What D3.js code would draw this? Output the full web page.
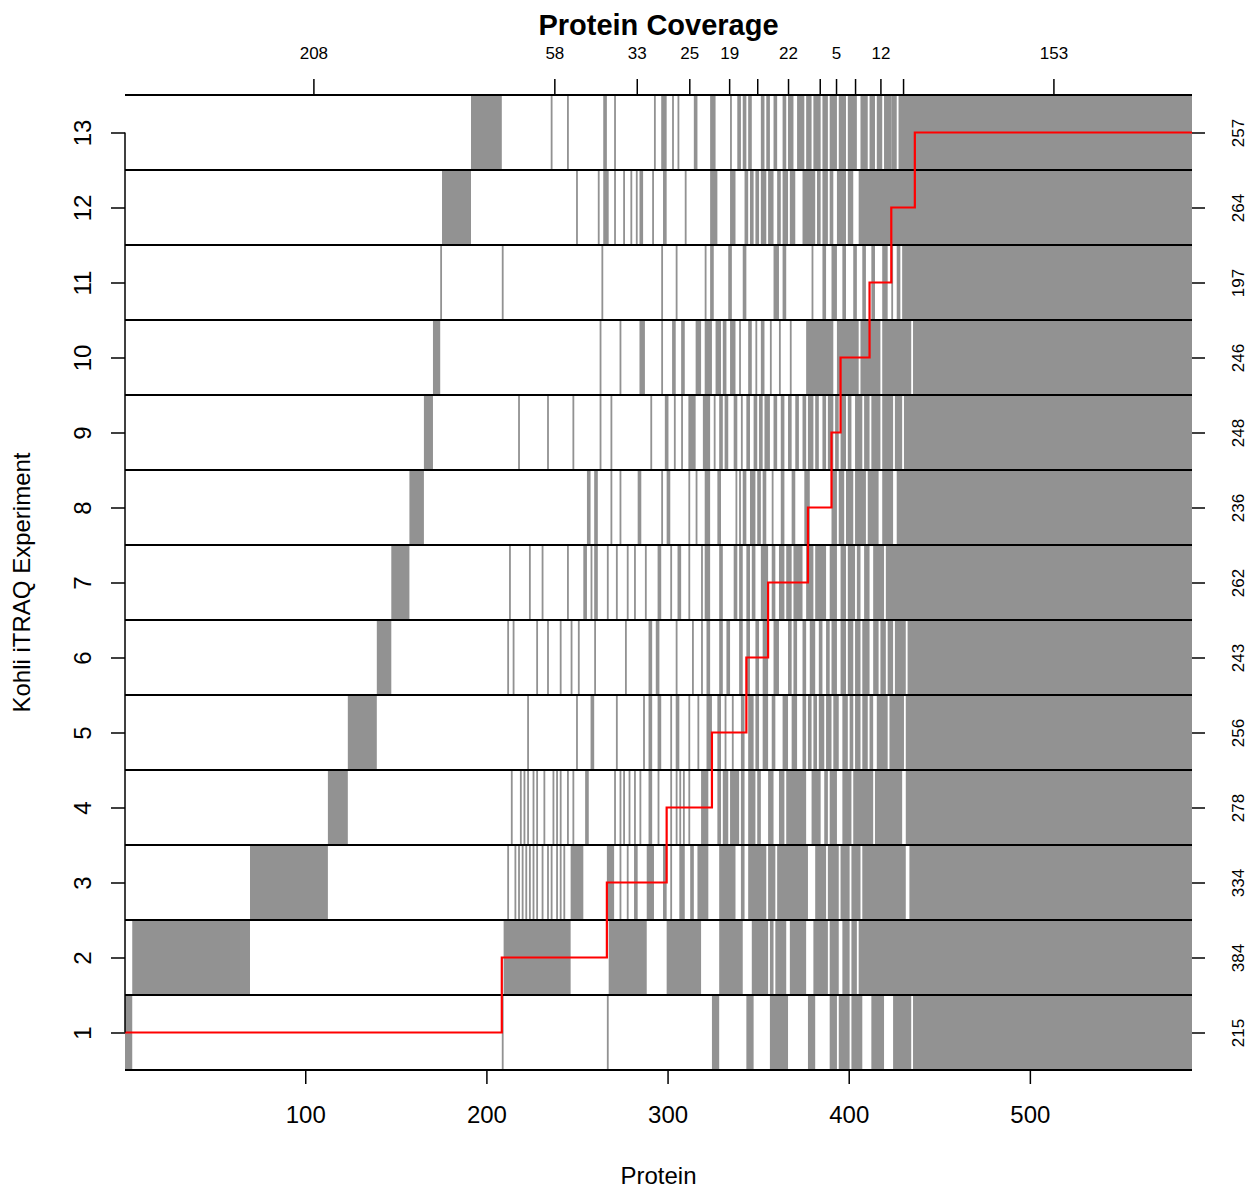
<!DOCTYPE html>
<html>
<head>
<meta charset="utf-8">
<script src="https://cdn.jsdelivr.net/npm/d3@7"></script>
<style>
  body { margin: 0; background: #fff; }
  text { font-family: "Liberation Sans", Arial, Helvetica, sans-serif; }
</style>
</head>
<body>
<script>

// proteins grouped by number of experiments they were seen in (1..13)
var groupSizes = [208, 58, 33, 25, 19, 12, 22, 13, 5, 16, 12, 13, 153];
// proteins found per experiment (right axis)
var rowCounts = [215, 384, 334, 278, 256, 243, 262, 236, 248, 246, 197, 264, 257];
var experiments = [1, 2, 3, 4, 5, 6, 7, 8, 9, 10, 11, 12, 13];
var xTicks = [100, 200, 300, 400, 500];

// detected protein index ranges per experiment, [first, last]
var hits = [
  // 1
  [[1,4],[209,209],[267,267],[325,328],[344,347],[357,366],[378,381],[390,393],[395,400],[402,407],
   [413,419],[425,434],[436,589]],
  // 2
  [[5,69],[210,246],[268,288],[300,318],[329,341],[347,355],[357,358],[360,365],[368,376],[381,388],
   [390,394],[397,400],[402,404],[406,589]],
  // 3
  [[70,112],[212,212],[216,216],[218,218],[220,220],[222,222],[224,224],[226,226],[228,228],[231,231],
   [234,234],[236,236],[239,239],[241,241],[243,243],[247,253],[267,270],[274,274],[278,278],[282,283],
   [289,292],[298,299],[302,302],[307,309],[313,314],[317,322],[329,337],[341,342],[345,354],[356,359],
   [361,377],[382,387],[389,394],[396,400],[402,406],[408,431],[434,589]],
  // 4
  [[113,123],[214,214],[219,219],[221,221],[223,223],[226,226],[228,228],[232,232],[237,237],[239,239],
   [241,241],[245,245],[248,248],[255,256],[271,271],[274,274],[276,276],[279,279],[282,282],[285,285],
   [290,291],[295,295],[302,302],[305,305],[307,307],[309,309],[312,312],[319,322],[328,329],[331,333],
   [335,339],[341,342],[345,348],[350,351],[356,358],[362,364],[366,376],[380,384],[387,388],[390,393],
   [397,401],[403,413],[415,429],[432,589]],
  // 5
  [[124,139],[223,223],[250,250],[258,259],[272,272],[287,287],[290,291],[295,296],[302,302],[305,306],
   [312,312],[317,317],[322,324],[328,329],[332,332],[336,336],[341,342],[345,347],[349,350],[353,355],
   [358,359],[364,366],[369,371],[375,376],[378,379],[381,382],[384,386],[388,390],[392,394],[397,399],
   [401,402],[404,406],[408,410],[412,413],[416,421],[423,430],[432,589]],
  // 6
  [[140,147],[212,212],[215,215],[228,228],[234,234],[241,241],[247,247],[251,251],[260,260],[277,277],
   [290,291],[294,295],[305,305],[314,314],[319,319],[322,323],[329,330],[333,334],[340,341],[344,345],
   [349,350],[353,355],[359,361],[367,368],[370,371],[375,376],[379,381],[384,385],[388,389],[391,393],
   [396,398],[400,402],[404,406],[408,411],[414,416],[418,420],[422,424],[426,431],[433,589]],
  // 7
  [[148,157],[213,213],[224,224],[231,231],[245,245],[254,255],[258,258],[260,261],[267,267],[272,272],
   [278,278],[282,282],[288,288],[295,296],[302,302],[306,307],[312,312],[319,319],[321,323],[329,330],
   [337,338],[340,341],[344,345],[347,348],[352,355],[358,359],[362,364],[366,368],[370,374],[377,380],
   [382,387],[390,393],[396,398],[400,403],[405,406],[409,411],[414,419],[421,589]],
  // 8
  [[158,165],[256,257],[260,261],[269,269],[274,274],[284,285],[297,297],[300,301],[312,312],[316,316],
   [321,323],[328,329],[338,338],[340,340],[342,343],[346,348],[350,351],[353,354],[358,358],[363,364],
   [369,370],[376,378],[391,393],[395,397],[399,402],[404,409],[411,416],[419,424],[427,589]],
  // 9
  [[166,170],[218,218],[234,234],[248,248],[263,263],[269,269],[291,291],[299,300],[304,304],[308,308],
   [312,315],[320,323],[326,326],[329,330],[332,333],[337,338],[341,341],[344,345],[348,349],[351,352],
   [354,356],[359,360],[363,364],[367,368],[371,372],[375,376],[378,380],[382,383],[386,387],[389,391],
   [393,394],[396,398],[400,401],[404,407],[409,411],[413,417],[419,424],[426,429],[431,589]],
  // 10
  [[171,174],[263,263],[274,274],[285,287],[297,297],[303,304],[308,309],[316,318],[321,324],[327,329],
   [331,332],[335,337],[340,340],[345,346],[349,349],[352,353],[357,357],[362,362],[368,368],[377,391],
   [394,405],[407,417],[419,434],[436,589]],
  // 11
  [[175,175],[209,209],[264,264],[297,297],[305,305],[321,321],[324,325],[334,335],[342,343],[359,361],
   [364,365],[380,380],[386,387],[391,393],[397,398],[403,404],[408,409],[413,414],[419,421],[424,424],
   [427,428],[430,589]],
  // 12
  [[176,191],[250,250],[262,262],[265,267],[271,271],[276,276],[280,280],[283,283],[285,286],[292,292],
   [298,299],[310,310],[324,327],[335,337],[343,344],[346,347],[349,350],[352,354],[356,358],[361,362],
   [364,366],[368,370],[375,381],[383,384],[386,388],[390,391],[394,398],[400,402],[406,589]],
  // 13
  [[192,208],[236,236],[245,245],[265,266],[271,271],[293,293],[297,299],[303,303],[306,306],[315,316],
   [324,326],[335,335],[339,340],[342,343],[345,346],[352,353],[355,356],[359,360],[364,365],[367,369],
   [372,375],[377,379],[381,384],[386,388],[390,393],[395,398],[400,404],[407,410],[412,414],[416,418],
   [420,423],[424,426],[428,589]]
];

var width = 1258,
    height = 1198,
    plotLeft = 125,
    plotRight = 1192,
    plotTop = 95,
    plotBottom = 1070,
    nProteins = d3.sum(groupSizes),
    cellFill = "#929292";

var svg = d3.select("body")
    .append("svg")
    .attr("width", width)
    .attr("height", height);

var x = d3.scaleLinear().domain([0.5, nProteins + 0.5]).range([plotLeft, plotRight]);
var y = d3.scaleLinear().domain([0.5, 13.5]).range([plotBottom, plotTop]);

// grey cells
var cells = [];
hits.forEach(function(row, i) {
    row.forEach(function(r) {
        cells.push({exp: i + 1, a: r[0], b: r[1]});
    });
});

svg.append("g").selectAll("rect")
    .data(cells)
    .enter()
    .append("rect")
    .attr("x", function(d) { return x(d.a - 0.5); })
    .attr("width", function(d) { return x(d.b + 0.5) - x(d.a - 0.5); })
    .attr("y", function(d) { return y(d.exp + 0.5); })
    .attr("height", function(d) { return y(d.exp - 0.5) - y(d.exp + 0.5); })
    .attr("fill", cellFill);

// row separators
svg.append("g").selectAll("line")
    .data(d3.range(0, 14))
    .enter()
    .append("line")
    .attr("x1", plotLeft)
    .attr("x2", plotRight)
    .attr("y1", function(d) { return y(d + 0.5); })
    .attr("y2", function(d) { return y(d + 0.5); })
    .attr("stroke", "#000")
    .attr("stroke-width", 2);

// red staircase: number of experiments per protein
var cum = 0, stepPts = [];
groupSizes.forEach(function(n, i) {
    stepPts.push([cum + 0.5, i + 1]);
    cum += n;
    stepPts.push([cum + 0.5, i + 1]);
});
svg.append("path")
    .datum(stepPts)
    .attr("fill", "none")
    .attr("stroke", "#ff0000")
    .attr("stroke-width", 2.2)
    .attr("d", d3.line()
        .x(function(d) { return x(d[0]); })
        .y(function(d) { return y(d[1]); }));

// axes
function styleAxis(g, size) {
    g.select(".domain").remove();
    g.selectAll(".tick line").attr("stroke", "#000").attr("stroke-width", 1.5);
    g.selectAll(".tick text").attr("fill", "#000").style("font-size", size + "px")
        .style("font-family", "'Liberation Sans', Arial, sans-serif");
}

// bottom
var gB = svg.append("g")
    .attr("transform", "translate(0," + plotBottom + ")")
    .call(d3.axisBottom(x).tickValues(xTicks).tickSize(14).tickPadding(22));
styleAxis(gB, 24);
svg.append("line")
    .attr("x1", x(xTicks[0])).attr("x2", x(xTicks[xTicks.length - 1]))
    .attr("y1", plotBottom).attr("y2", plotBottom)
    .attr("stroke", "#000").attr("stroke-width", 1.5);

// top: group sizes at group midpoints
var mids = [], c = 0;
groupSizes.forEach(function(n) { mids.push(c + (n + 1) / 2); c += n; });
var gT = svg.append("g")
    .attr("transform", "translate(0," + plotTop + ")")
    .call(d3.axisTop(x).tickValues(mids).tickSize(16).tickPadding(20)
        .tickFormat(function(d, i) { return groupSizes[i]; }));
styleAxis(gT, 17);
// drop labels that would crowd the previous one, like R does
var lastRight = -1e9;
gT.selectAll(".tick text").each(function(d) {
    var bb = this.getBBox();
    var m = x(d);
    var l = m + bb.x, r = m + bb.x + bb.width;
    if (l < lastRight + 17) d3.select(this).remove();
    else lastRight = r;
});

// left
var gL = svg.append("g")
    .attr("transform", "translate(" + plotLeft + ",0)")
    .call(d3.axisLeft(y).tickValues(experiments).tickSize(14).tickPadding(0));
styleAxis(gL, 24);
gL.selectAll(".tick text")
    .attr("x", null).attr("dy", null)
    .attr("text-anchor", "middle")
    .attr("transform", "translate(-42,0) rotate(-90)")
    .attr("dy", "0.35em");
svg.append("line")
    .attr("x1", plotLeft).attr("x2", plotLeft)
    .attr("y1", y(1)).attr("y2", y(13))
    .attr("stroke", "#000").attr("stroke-width", 1.5);

// right: proteins per experiment
var gR = svg.append("g")
    .attr("transform", "translate(" + plotRight + ",0)")
    .call(d3.axisRight(y).tickValues(experiments).tickSize(13)
        .tickFormat(function(d) { return rowCounts[d - 1]; }));
styleAxis(gR, 17);
gR.selectAll(".tick text")
    .attr("x", null).attr("dy", null)
    .attr("text-anchor", "middle")
    .attr("transform", "translate(46,0) rotate(-90)")
    .attr("dy", "0.35em");

// titles
svg.append("text")
    .attr("x", (plotLeft + plotRight) / 2)
    .attr("y", 35)
    .attr("text-anchor", "middle")
    .style("font-size", "29px")
    .style("font-weight", "bold")
    .text("Protein Coverage");

svg.append("text")
    .attr("x", (plotLeft + plotRight) / 2)
    .attr("y", 1184)
    .attr("text-anchor", "middle")
    .style("font-size", "24px")
    .text("Protein");

svg.append("text")
    .attr("transform", "translate(30," + (plotTop + plotBottom) / 2 + ") rotate(-90)")
    .attr("text-anchor", "middle")
    .style("font-size", "24px")
    .text("Kohli iTRAQ Experiment");

</script>
</body>
</html>
